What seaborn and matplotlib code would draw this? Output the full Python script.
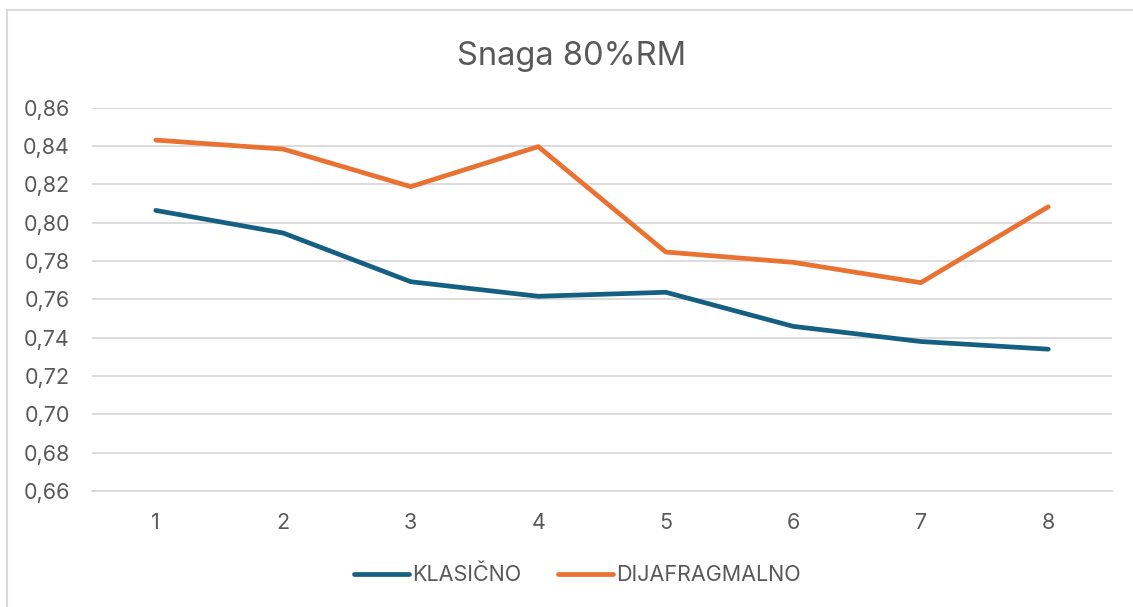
import matplotlib
matplotlib.use("Agg")
import matplotlib.pyplot as plt
import seaborn as sns
import pandas as pd
from matplotlib.patches import Rectangle
from matplotlib.ticker import FuncFormatter, MultipleLocator

# data
sessions = [1, 2, 3, 4, 5, 6, 7, 8]
klasicno = [0.8064, 0.7946, 0.7692, 0.7616, 0.7637, 0.7459, 0.7380, 0.7340]
dijafragmalno = [0.8431, 0.8384, 0.8188, 0.8397, 0.7847, 0.7793, 0.7687, 0.8083]
series_names = ["KLASIČNO", "DIJAFRAGMALNO"]
colors = ["#156082", "#E97132"]

df = pd.DataFrame({
    "x": sessions * 2,
    "y": klasicno + dijafragmalno,
    "serija": [series_names[0]] * len(sessions) + [series_names[1]] * len(sessions),
})

sns.set_style("white")
plt.rcParams["font.family"] = ["Inter", "DejaVu Sans"]
text_col = "#595959"
grid_col = "#D9D9D9"

fig = plt.figure(figsize=(11.33, 6.07), dpi=100)
ax = fig.add_axes([92 / 1133, 1 - 491 / 607, (1112 - 92) / 1133, (491 - 107.7) / 607])

sns.lineplot(data=df, x="x", y="y", hue="serija", palette=colors,
             linewidth=3.4, ax=ax, legend=False, solid_capstyle="round")

ax.set_xlim(0.5, 8.5)
ax.set_ylim(0.66, 0.86)
ax.set_xticks(sessions)
ax.yaxis.set_major_locator(MultipleLocator(0.02))
ax.yaxis.set_major_formatter(FuncFormatter(lambda v, p: f"{v:.2f}".replace(".", ",")))
ax.grid(axis="y", color=grid_col, linewidth=1.3)
ax.set_axisbelow(True)
for s in ["left", "right", "top"]:
    ax.spines[s].set_visible(False)
ax.spines["bottom"].set_color(grid_col)
ax.spines["bottom"].set_linewidth(1.3)
ax.tick_params(axis="both", length=0, labelsize=15.5, colors=text_col)
ax.tick_params(axis="x", pad=16)
ax.tick_params(axis="y", pad=16)
ax.set_xlabel("")
ax.set_ylabel("")

fig.text(0.5 + 5 / 1133, 1 - 56 / 607, "Snaga 80%RM", ha="center", va="center",
         fontsize=23.5, color=text_col)

handles = [plt.Line2D([], [], color=c, linewidth=3.4, solid_capstyle="round") for c in colors]
fig.legend(handles, series_names, loc="center", bbox_to_anchor=(0.5 + 11 / 1133, 1 - 575 / 607),
           ncol=2, frameon=False, fontsize=15.5, handlelength=2.55, handletextpad=0.15,
           columnspacing=1.7, labelcolor=text_col)

fig.patches.append(Rectangle((6.5 / 1133, -0.1), 1.2, 1 - 9.5 / 607 + 0.1,
                             transform=fig.transFigure, fill=False,
                             edgecolor=grid_col, linewidth=1.5))

fig.savefig("out.png", dpi=100)
